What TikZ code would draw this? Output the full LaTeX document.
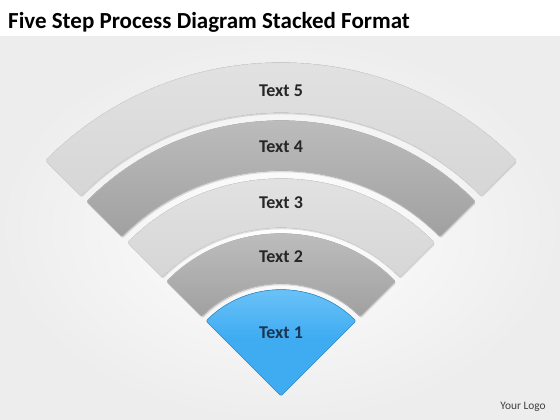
\documentclass[tikz,border=0pt]{standalone}
\usepackage{fontspec}
\setmainfont{Carlito}
\usetikzlibrary{shadows}
\definecolor{bandlight}{HTML}{D6D6D6}
\definecolor{bandlighttop}{HTML}{E4E4E4}
\definecolor{banddark}{HTML}{A0A0A0}
\definecolor{banddarktop}{HTML}{C2C2C2}
\definecolor{stepblue}{HTML}{3FACF2}
\definecolor{stepbluetop}{HTML}{74C6F8}
\definecolor{labeltext}{HTML}{262626}
\definecolor{bluetext}{HTML}{1B3552}
\tikzset{
  bandlt/.style={top color=bandlighttop, bottom color=bandlight, draw=black!15, line width=0.6pt,
    rounded corners=2pt, drop shadow={shadow xshift=0.8pt, shadow yshift=-1.6pt, opacity=0.25}},
  banddk/.style={top color=banddarktop, bottom color=banddark, draw=black!25, line width=0.6pt,
    rounded corners=2pt, drop shadow={shadow xshift=0.8pt, shadow yshift=-1.6pt, opacity=0.25}},
  steptext/.style={font=\bfseries\fontsize{18}{20}\selectfont, text=labeltext},
}
\begin{document}
\begin{tikzpicture}[x=1pt, y=1pt]
    \useasboundingbox (0,0) rectangle (560,420);
    % page
    \fill[white] (0,0) rectangle (560,420);
    \shade[inner color=white, outer color=black!7] (0,0) rectangle (560,383);
    \node[anchor=base west, font=\bfseries\fontsize{23}{26}\selectfont, inner sep=0pt]
      (title) at (8,391) {Five Step Process Diagram Stacked Format};
    \node[font=\fontsize{11.4}{13}\selectfont, text=black!75] (logo) at (523,13) {Your Logo};

    \coordinate (c) at (281,24);

    % outer bands
    \fill[bandlt] ([shift={(45:283pt)}]c) arc[start angle=45, end angle=135, radius=283pt]
      -- ([shift={(135:333pt)}]c) arc[start angle=135, end angle=45, radius=333pt] -- cycle;
    \fill[banddk] ([shift={(45:225pt)}]c) arc[start angle=45, end angle=135, radius=225pt]
      -- ([shift={(135:275pt)}]c) arc[start angle=135, end angle=45, radius=275pt] -- cycle;
    \fill[bandlt] ([shift={(45:168pt)}]c) arc[start angle=45, end angle=135, radius=168pt]
      -- ([shift={(135:217pt)}]c) arc[start angle=135, end angle=45, radius=217pt] -- cycle;
    \fill[banddk] ([shift={(45:112pt)}]c) arc[start angle=45, end angle=135, radius=112pt]
      -- ([shift={(135:162pt)}]c) arc[start angle=135, end angle=45, radius=162pt] -- cycle;

    % first step
    \fill[top color=stepbluetop, bottom color=stepblue, middle color=stepblue, draw=stepblue!85!black,
      line width=0.6pt, rounded corners=2pt] (c) -- ([shift={(45:106pt)}]c)
      arc[start angle=45, end angle=135, radius=106pt] -- cycle;

    \node[steptext] (t5) at (281,329) {Text 5};
    \node[steptext] (t4) at (281,273) {Text 4};
    \node[steptext] (t3) at (281,217) {Text 3};
    \node[steptext] (t2) at (281,163) {Text 2};
    \node[steptext, text=bluetext] (t1) at (281,87) {Text 1};
\end{tikzpicture}
\end{document}
